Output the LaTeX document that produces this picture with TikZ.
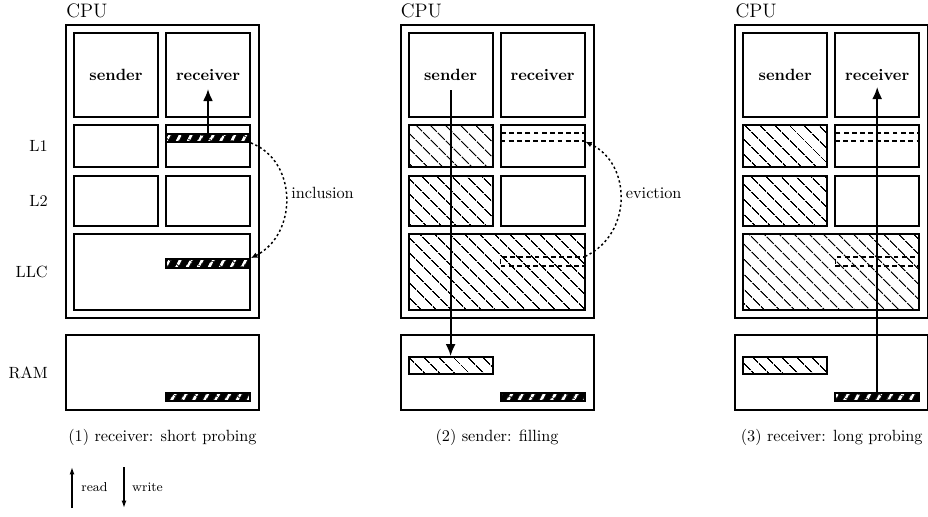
\documentclass[tikz,border=0pt]{standalone}
\usetikzlibrary{arrows.meta,patterns.meta,fit}
\newcommand\basepanel[3]{%
  \node[box,fit={(66,25) (259,318)}] (#1cpu) {};
  \node[anchor=west,inner sep=0pt,font=\large] (#1cpulbl) at (66,11) {CPU};
  \node[box,fit={(74,33) (158,117)}] (#1snd) {};
  \node[font=\bfseries] (#1sndt) at (#1snd.center) {sender};
  \node[box,fit={(166,33) (250,117)}] (#1rcv) {};
  \node[font=\bfseries] (#1rcvt) at (#1rcv.center) {receiver};
  \node[#2,fit={(74,125) (158,167)}] (#1lis) {};
  \node[box,fit={(166,125) (250,167)}] (#1lir) {};
  \node[#2,fit={(74,176) (158,226)}] (#1lls) {};
  \node[box,fit={(166,176) (250,226)}] (#1llr) {};
  \node[#3,fit={(74,234) (250,310)}] (#1llc) {};
  \node[box,fit={(66,335) (259,410)}] (#1ram) {};
  \node[bar,fit={(166,393) (250,401)}] (#1rambar) {};
}
\begin{document}
\begin{tikzpicture}[x=0.615pt,y=-0.615pt,
  box/.style={draw,line width=1.1pt,inner sep=0pt,rectangle},
  hatch/.style={box,pattern={Lines[angle=-45,distance=6.5pt,line width=0.75pt]}},
  bar/.style={draw,line width=1.1pt,inner sep=0pt,rectangle,preaction={fill=black},
    pattern={Lines[angle=60,distance=6.4pt,line width=1.8pt]},pattern color=white},
  evict/.style={draw,line width=0.8pt,inner sep=0pt,rectangle,dash pattern=on 3pt off 2pt},
  flow/.style={line width=1.1pt,-{Latex[length=7.4pt,width=6.1pt]}},
  link/.style={line width=0.9pt,dash pattern=on 1.4pt off 1.6pt,-{Latex[length=4pt,width=3.5pt]}},
  legend/.style={line width=0.8pt,-{Latex[length=4.5pt,width=3pt]}},
  lvl/.style={anchor=east,inner sep=0pt},
  captxt/.style={inner sep=0pt}
]
\useasboundingbox (0,0) rectangle (928,516);

% ---------- panel 1 ----------
\basepanel{a}{box}{box}
\node[bar,fit={(166,134) (250,142)}] (al1bar) {};
\node[bar,fit={(166,259) (250,268)}] (allcbar) {};
\coordinate (arcvtip) at (208,89);
\draw[flow] (al1bar.north) -- (arcvtip);
\draw[link] (al1bar.south east) .. controls +(47,18) and +(47,-24) .. (allcbar.north east);
\node[anchor=west,inner sep=0pt] (aincl) at (291,193) {inclusion};
\node[lvl] (lbl1) at (48,146) {L1};
\node[lvl] (lbl2) at (48,201) {L2};
\node[lvl] (lbl3) at (48,272) {LLC};
\node[lvl] (lbl4) at (48,373) {RAM};
\node[captxt] (acap) at (162.5,437) {(1) receiver: short probing};

% legend
\coordinate (rd0) at (72,508);
\coordinate (rd1) at (72,467);
\coordinate (wr0) at (124,467);
\coordinate (wr1) at (124,508);
\draw[legend] (rd0) -- (rd1);
\draw[legend] (wr0) -- (wr1);
\node[font=\footnotesize,inner sep=0pt] (rdl) at (94.5,487) {read};
\node[font=\footnotesize,inner sep=0pt] (wrl) at (147.5,487) {write};

% ---------- panel 2 ----------
\begin{scope}[shift={(334.6,0)}]
\basepanel{b}{hatch}{hatch}
\node[hatch,fit={(74,357) (158,374)}] (bramh) {};
\node[evict,fit={(166,133) (250,141)}] (bl1d) {};
\node[evict,fit={(166,257) (250,266)}] (bllcd) {};
\coordinate (bsndsrc) at (116,90);
\draw[flow] (bsndsrc) -- (bramh.north -| bsndsrc);
\draw[link] (bllcd.north east) .. controls +(47,-22) and +(47,22) .. (bl1d.south east);
\node[anchor=west,inner sep=0pt] (bevi) at (291,193) {eviction};
\node[captxt] (bcap) at (162.5,437) {(2) sender: filling};
\end{scope}

% ---------- panel 3 ----------
\begin{scope}[shift={(669.2,0)}]
\basepanel{c}{hatch}{hatch}
\node[hatch,fit={(74,357) (158,374)}] (cramh) {};
\node[evict,fit={(166,133) (250,141)}] (cl1d) {};
\node[evict,fit={(166,257) (250,266)}] (cllcd) {};
\coordinate (crcvtip) at (208,87);
\draw[flow] (crambar.north) -- (crcvtip);
\node[captxt] (ccap) at (162.5,437) {(3) receiver: long probing};
\end{scope}
\end{tikzpicture}
\end{document}
